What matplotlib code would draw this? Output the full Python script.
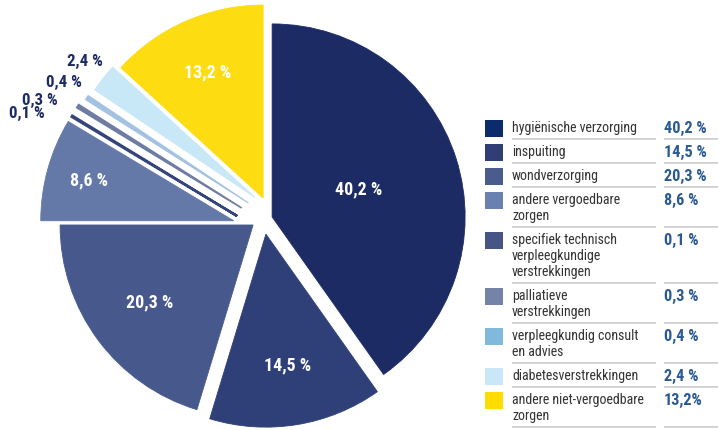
import numpy as np
import matplotlib
matplotlib.use("Agg")
import matplotlib.pyplot as plt
from matplotlib import font_manager
from matplotlib.patches import Rectangle

# data
categories = [
    "hygiënische verzorging",
    "inspuiting",
    "wondverzorging",
    "andere vergoedbare\nzorgen",
    "specifiek technisch\nverpleegkundige\nverstrekkingen",
    "palliatieve\nverstrekkingen",
    "verpleegkundig consult\nen advies",
    "diabetesverstrekkingen",
    "andere niet-vergoedbare\nzorgen",
]
shares = [40.2, 14.5, 20.3, 8.6, 0.1, 0.3, 0.4, 2.4, 13.2]
legend_values = ["40,2 %", "14,5 %", "20,3 %", "8,6 %", "0,1 %", "0,3 %", "0,4 %", "2,4 %", "13,2%"]

# styles
pie_colors = ["#1d2b64", "#2f3f78", "#47598c", "#6479a8", "#35447a",
              "#6e7ba3", "#a3c2e2", "#c8e7f7", "#fedc12"]
swatch_colors = ["#0b2b6b", "#2f3e74", "#4a5c8e", "#6a80b0", "#465585",
                 "#7683a8", "#80b9dc", "#c9e8f7", "#ffdc00"]
explode = [0.04, 0.073, 0.065, 0.155, 0.134, 0.136, 0.12, 0.113, 0.108]
nudge = [0.004, -0.007, -0.016, 0.047, 0.057, 0.011, -0.027, -0.06, -0.037]
edge_width = [0.6, 0.6, 0.6, 0.6, 1.8, 1.2, 0.8, 0.6, 0.6]
label_radius = [0.47, 0.69, 0.67, 0.78, None, None, None, None, 0.71]
# outside labels for the thin slices: offset in pixels from the slice tip
outside_offset = {4: (-27, 3), 5: (-20, 6), 6: (-5, 15), 7: (0, 17)}

installed = {f.name for f in font_manager.fontManager.ttflist}
narrow = [f for f in ["Liberation Sans Narrow", "Roboto Condensed", "Open Sans Condensed"]
          if f in installed]
plt.rcParams["font.family"] = narrow + ["Liberation Sans", "DejaVu Sans"]

W, H = 718, 430
R_PX = 193.0
CX, CY = 265.0, 220.0
PIE_W = 470.0

fig = plt.figure(figsize=(W / 100, H / 100), dpi=100)
renderer = fig.canvas.get_renderer()


def fit_size(sample, target_px, weight="normal"):
    # font size that makes `sample` about target_px wide
    t = fig.text(0, 0, sample, fontsize=10, fontweight=weight)
    width = t.get_window_extent(renderer).width
    t.remove()
    return 10 * target_px / width


LEG_SIZE = fit_size("hygiënische verzorging", 125)
VAL_SIZE = fit_size("40,2 %", 43, "bold")
PIE_SIZE = fit_size("40,2 %", 47, "semibold")

ax = fig.add_axes([0, 0, PIE_W / W, 1])
wedges, _ = ax.pie(shares, colors=pie_colors, startangle=90, counterclock=False,
                   explode=explode, radius=1.0, wedgeprops=dict(linewidth=0))
ax.set_xlim(-CX / R_PX, (PIE_W - CX) / R_PX)
ax.set_ylim(-(H - CY) / R_PX, CY / R_PX)
ax.axis("off")

for i, w in enumerate(wedges):
    mid = np.deg2rad((w.theta1 + w.theta2) / 2)
    cx, cy = w.center
    cx += -np.sin(mid) * nudge[i]
    cy += np.cos(mid) * nudge[i]
    w.set_center((cx, cy))
    w.set_edgecolor(pie_colors[i])
    w.set_linewidth(edge_width[i])
    txt = f"{shares[i]:.1f} %".replace(".", ",")
    if label_radius[i] is not None:
        r = label_radius[i]
        ax.text(cx + r * np.cos(mid), cy + r * np.sin(mid), txt, color="white",
                fontsize=PIE_SIZE, fontweight="semibold", ha="center", va="center")
    else:
        tip = (cx + np.cos(mid), cy + np.sin(mid))
        ax.annotate(txt, xy=tip, xytext=outside_offset[i], textcoords="offset pixels",
                    ha="right", va="center", color="#1d2b64", fontsize=PIE_SIZE * 0.95,
                    fontweight="semibold")

# legend table
lax = fig.add_axes([0, 0, 1, 1])
lax.set_xlim(0, W)
lax.set_ylim(H, 0)
lax.axis("off")

top = 115.0
for i, (name, val) in enumerate(zip(categories, legend_values)):
    n_lines = name.count("\n") + 1
    row_h = 8 + 16 * n_lines
    first = top + 13
    lax.add_patch(Rectangle((485, first - 8.5), 18, 17.5, color=swatch_colors[i], lw=0))
    for k, line in enumerate(name.split("\n")):
        lax.text(512, first + 16 * k, line, ha="left", va="center", color="#333333",
                 fontsize=LEG_SIZE)
    lax.text(664, first, val, ha="left", va="center", color="#2a5a93",
             fontsize=VAL_SIZE, fontweight="bold")
    bottom = top + row_h
    lax.plot([512, 656], [bottom, bottom], color="#cccccc", lw=1.2, solid_capstyle="butt")
    lax.plot([664, 718], [bottom, bottom], color="#cccccc", lw=1.2, solid_capstyle="butt")
    top = bottom

fig.savefig("out.png", dpi=100)
